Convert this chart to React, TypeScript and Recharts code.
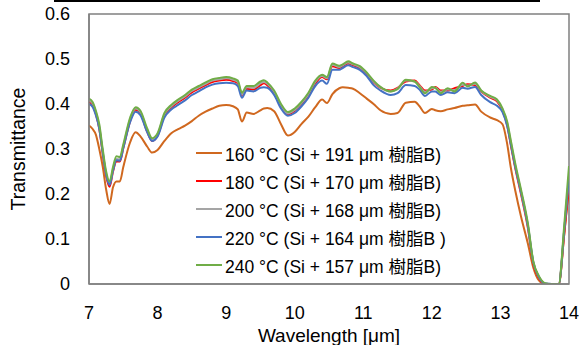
import React from 'react';
import { LineChart, Line, XAxis, YAxis, Legend, ReferenceArea } from 'recharts';

const wavelengths = [7.0, 7.05, 7.1, 7.15, 7.2, 7.25, 7.3, 7.35, 7.4, 7.45, 7.5, 7.6, 7.68, 7.75, 7.85, 7.92, 8.0, 8.1, 8.2, 8.3, 8.4, 8.5, 8.6, 8.7, 8.8, 8.9, 9.0, 9.1, 9.17, 9.23, 9.3, 9.4, 9.5, 9.55, 9.6, 9.7, 9.8, 9.9, 10.0, 10.1, 10.2, 10.3, 10.4, 10.47, 10.55, 10.65, 10.7, 10.78, 10.85, 10.95, 11.05, 11.15, 11.25, 11.4, 11.5, 11.62, 11.75, 11.82, 11.9, 12.0, 12.05, 12.13, 12.23, 12.33, 12.45, 12.52, 12.63, 12.72, 12.85, 12.95, 13.03, 13.1, 13.15, 13.22, 13.3, 13.4, 13.48, 13.56, 13.65, 13.75, 13.85, 13.93, 14.0];

const t160 = [0.352, 0.345, 0.332, 0.3, 0.261, 0.21, 0.178, 0.215, 0.228, 0.228, 0.26, 0.315, 0.337, 0.328, 0.305, 0.292, 0.298, 0.318, 0.335, 0.344, 0.352, 0.362, 0.374, 0.383, 0.39, 0.396, 0.398, 0.395, 0.388, 0.361, 0.381, 0.378, 0.386, 0.39, 0.391, 0.384, 0.355, 0.33, 0.338, 0.356, 0.372, 0.393, 0.41, 0.402, 0.422, 0.435, 0.437, 0.436, 0.434, 0.424, 0.412, 0.4, 0.386, 0.378, 0.38, 0.403, 0.405, 0.395, 0.38, 0.389, 0.386, 0.384, 0.388, 0.391, 0.396, 0.397, 0.399, 0.383, 0.37, 0.364, 0.355, 0.31, 0.26, 0.205, 0.15, 0.09, 0.036, 0.008, 0, 0, 0, 0.11, 0.217];

const t180 = [0.405, 0.398, 0.378, 0.345, 0.29, 0.24, 0.216, 0.25, 0.272, 0.272, 0.302, 0.362, 0.387, 0.379, 0.338, 0.318, 0.33, 0.374, 0.392, 0.404, 0.414, 0.426, 0.434, 0.442, 0.449, 0.452, 0.454, 0.451, 0.446, 0.42, 0.434, 0.432, 0.442, 0.446, 0.442, 0.424, 0.394, 0.377, 0.385, 0.4, 0.42, 0.446, 0.46, 0.455, 0.484, 0.48, 0.484, 0.49, 0.486, 0.48, 0.466, 0.448, 0.436, 0.43, 0.436, 0.45, 0.452, 0.442, 0.43, 0.432, 0.438, 0.43, 0.43, 0.435, 0.44, 0.444, 0.442, 0.428, 0.414, 0.406, 0.385, 0.352, 0.31, 0.255, 0.2, 0.125, 0.045, 0.014, 0, 0, 0, 0.11, 0.22];

const t200 = [0.408, 0.402, 0.382, 0.35, 0.295, 0.245, 0.222, 0.255, 0.278, 0.277, 0.306, 0.366, 0.39, 0.382, 0.341, 0.321, 0.332, 0.377, 0.395, 0.407, 0.417, 0.429, 0.437, 0.445, 0.452, 0.455, 0.457, 0.454, 0.449, 0.422, 0.437, 0.436, 0.446, 0.449, 0.445, 0.427, 0.397, 0.379, 0.387, 0.402, 0.422, 0.449, 0.462, 0.457, 0.487, 0.482, 0.486, 0.492, 0.488, 0.482, 0.468, 0.45, 0.437, 0.428, 0.434, 0.452, 0.45, 0.44, 0.427, 0.435, 0.436, 0.427, 0.432, 0.431, 0.443, 0.441, 0.445, 0.429, 0.416, 0.408, 0.388, 0.356, 0.316, 0.26, 0.205, 0.13, 0.048, 0.016, 0.001, 0, 0, 0.12, 0.24];

const t220 = [0.4, 0.394, 0.375, 0.345, 0.292, 0.243, 0.22, 0.252, 0.275, 0.274, 0.302, 0.36, 0.383, 0.375, 0.337, 0.318, 0.328, 0.37, 0.388, 0.398, 0.408, 0.42, 0.428, 0.437, 0.443, 0.446, 0.447, 0.446, 0.44, 0.414, 0.43, 0.428, 0.436, 0.437, 0.436, 0.42, 0.39, 0.374, 0.38, 0.395, 0.414, 0.44, 0.452, 0.445, 0.476, 0.476, 0.48, 0.486, 0.482, 0.476, 0.462, 0.442, 0.43, 0.42, 0.424, 0.442, 0.44, 0.432, 0.418, 0.428, 0.428, 0.42, 0.426, 0.424, 0.436, 0.434, 0.438, 0.42, 0.404, 0.396, 0.382, 0.35, 0.312, 0.258, 0.205, 0.13, 0.048, 0.016, 0.001, 0, 0, 0.12, 0.24];

const t240 = [0.412, 0.405, 0.385, 0.355, 0.3, 0.25, 0.228, 0.26, 0.284, 0.282, 0.31, 0.37, 0.393, 0.385, 0.345, 0.324, 0.335, 0.38, 0.398, 0.41, 0.42, 0.432, 0.44, 0.448, 0.455, 0.458, 0.46, 0.457, 0.452, 0.425, 0.44, 0.44, 0.45, 0.453, 0.448, 0.43, 0.4, 0.382, 0.39, 0.405, 0.425, 0.452, 0.465, 0.46, 0.49, 0.485, 0.488, 0.495, 0.49, 0.484, 0.47, 0.452, 0.438, 0.428, 0.433, 0.454, 0.45, 0.438, 0.424, 0.438, 0.436, 0.424, 0.435, 0.428, 0.447, 0.439, 0.448, 0.43, 0.418, 0.41, 0.39, 0.36, 0.32, 0.265, 0.21, 0.135, 0.05, 0.018, 0.002, 0, 0, 0.13, 0.262];

const xTicks = [7, 8, 9, 10, 11, 12, 13, 14];
const yTicks = [0, 0.1, 0.2, 0.3, 0.4, 0.5, 0.6];

const seriesKeys = ['s160', 's180', 's200', 's220', 's240'];
const seriesNames = [
  '160 °C (Si + 191 μm 樹脂B)',
  '180 °C (Si + 170 μm 樹脂B)',
  '200 °C (Si + 168 μm 樹脂B)',
  '220 °C (Si + 164 μm 樹脂B )',
  '240 °C (Si + 157 μm 樹脂B)',
];
const seriesColors = ['#D0681F', '#FF0000', '#A5A5A5', '#4472C4', '#70AD47'];
const seriesValues = [t160, t180, t200, t220, t240];

const data = wavelengths.map((w, i) => {
  const row: Record<string, number> = { w };
  seriesKeys.forEach((k, j) => {
    row[k] = seriesValues[j][i];
  });
  return row;
});

const FONT = '"Liberation Sans", Arial, "Noto Sans CJK JP", sans-serif';
const AXIS = '#808080';

const renderLegend = () => (
  <div style={{ fontFamily: FONT, fontSize: 17.5, color: '#000' }}>
    {seriesNames.map((name, i) => (
      <div key={name} style={{ display: 'flex', alignItems: 'center', height: 28, whiteSpace: 'nowrap' }}>
        <span style={{ display: 'inline-block', width: 26, height: 2, background: seriesColors[i], marginRight: 3 }} />
        <span>{name}</span>
      </div>
    ))}
  </div>
);

export default function App() {
  return (
    <div style={{ position: 'absolute', left: 0, top: 0, width: 579, height: 345, background: '#fff', fontFamily: FONT }}>
      <div style={{ position: 'absolute', left: 54, top: 0, width: 486, height: 2, background: '#000' }} />
      <LineChart width={579} height={345} data={data} margin={{ top: 14, right: 10, bottom: 0, left: 0 }}>
        <ReferenceArea x1={7} x2={14} y1={0} y2={0.6} fill="none" stroke={AXIS} strokeWidth={1.5} ifOverflow="visible" />
        <XAxis
          dataKey="w"
          type="number"
          domain={[7, 14]}
          ticks={xTicks}
          allowDataOverflow
          height={61}
          stroke={AXIS}
          strokeWidth={1.5}
          tickLine={false}
          tickSize={0}
          tickMargin={22}
          tick={{ fill: '#000', fontSize: 18, fontFamily: FONT }}
          label={{ value: 'Wavelength [μm]', position: 'insideBottom', offset: 3, fill: '#000', fontSize: 19, fontFamily: FONT }}
        />
        <XAxis
          xAxisId="m"
          dataKey="w"
          type="number"
          domain={[7, 14]}
          ticks={xTicks}
          mirror
          orientation="bottom"
          axisLine={false}
          tick={false}
          tickSize={5}
          stroke={AXIS}
          tickLine={{ stroke: AXIS, strokeWidth: 1 }}
        />
        <YAxis
          type="number"
          domain={[0, 0.6]}
          ticks={yTicks}
          allowDataOverflow
          width={89}
          stroke={AXIS}
          strokeWidth={1.5}
          tickLine={false}
          tickSize={0}
          tickMargin={19}
          tickFormatter={(v: number) => (v === 0 ? '0' : v.toFixed(1))}
          tick={{ fill: '#000', fontSize: 18, fontFamily: FONT }}
          label={{
            content: (props: any) => {
              const vb = props.viewBox || { y: 14, height: 270 };
              const cy = vb.y + vb.height / 2;
              return (
                <text x={18} y={cy} transform={`rotate(-90, 18, ${cy})`} textAnchor="middle" dominantBaseline="central" fill="#000" fontSize={19.5} fontFamily={FONT}>
                  Transmittance
                </text>
              );
            },
          }}
        />
        <YAxis
          yAxisId="m"
          type="number"
          domain={[0, 0.6]}
          ticks={yTicks}
          mirror
          axisLine={false}
          tick={false}
          tickSize={5}
          stroke={AXIS}
          tickLine={{ stroke: AXIS, strokeWidth: 1 }}
        />
        <Legend layout="vertical" align="center" verticalAlign="middle" content={renderLegend} wrapperStyle={{ left: 196, top: 139, width: 280 }} />
        {seriesKeys.map((k, i) => (
          <Line
            key={k}
            dataKey={k}
            name={seriesNames[i]}
            stroke={seriesColors[i]}
            strokeWidth={2}
            dot={false}
            activeDot={false}
            type="monotone"
            isAnimationActive={false}
          />
        ))}
      </LineChart>
    </div>
  );
}
